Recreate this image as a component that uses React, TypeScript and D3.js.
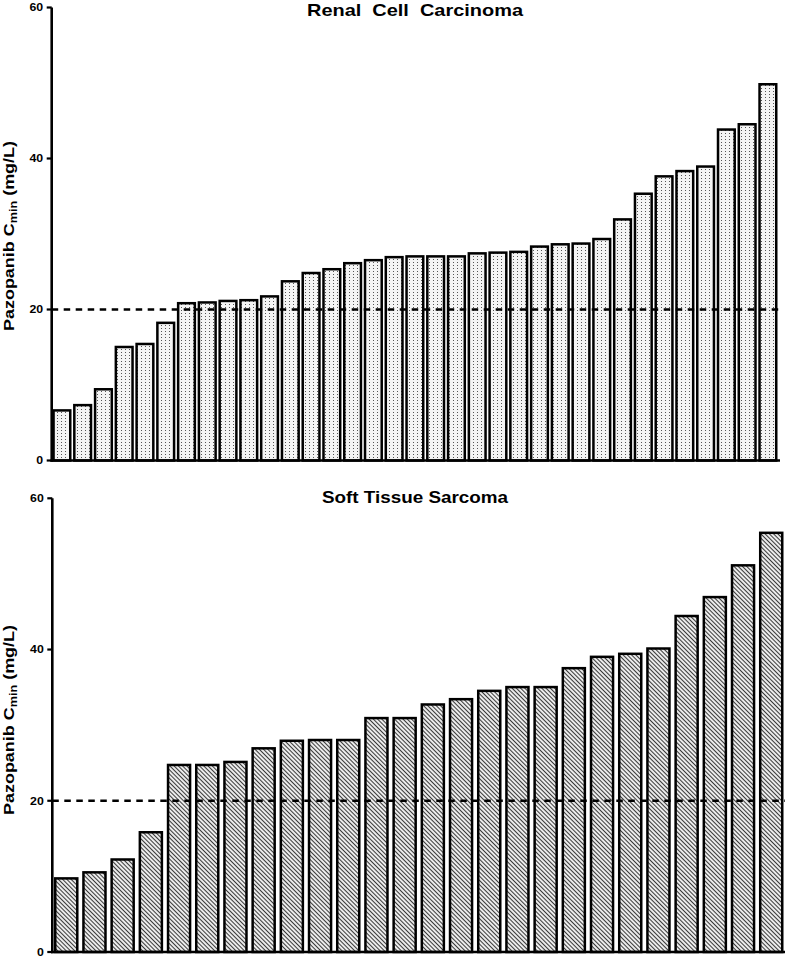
import React from "react";
import * as d3 from "d3";

const rccValues = [6.8, 7.5, 9.6, 15.2, 15.6, 18.4, 21.0, 21.1, 21.3, 21.4, 21.9, 23.9, 25.0, 25.5, 26.3, 26.7, 27.1, 27.2, 27.2, 27.2, 27.6, 27.7, 27.8, 28.5, 28.8, 28.9, 29.5, 32.1, 35.5, 37.8, 38.5, 39.1, 44.0, 44.7, 50.0];
const stsValues = [9.9, 10.7, 12.4, 16.0, 24.9, 24.9, 25.3, 27.1, 28.1, 28.2, 28.2, 31.1, 31.1, 32.9, 33.6, 34.7, 35.2, 35.2, 37.7, 39.2, 39.6, 40.3, 44.6, 47.1, 51.3, 55.6];
const yTicks = [0, 20, 40, 60];
const threshold = 20;
const titles = ["Renal  Cell  Carcinoma", "Soft Tissue Sarcoma"];

const FONT = "'Liberation Sans', Arial, Helvetica, sans-serif";

type PanelProps = {
  values: number[];
  title: string;
  titleLen: number;
  yRange: [number, number];
  xRange: [number, number];
  pad: number;
  fill: string;
  axisX: number;
  lineEnd: number;
  titleY: number;
  labelY: number;
};

function Panel({ values, title, titleLen, yRange, xRange, pad, fill, axisX, lineEnd, titleY, labelY }: PanelProps) {
  const y = d3.scaleLinear().domain([0, 60]).range(yRange);
  const x = d3
    .scaleBand<number>()
    .domain(values.map((_, i) => i))
    .range(xRange)
    .paddingInner(pad)
    .paddingOuter(0);
  const sw = 2.5;
  const bw = x.bandwidth();
  const y0 = y(0);
  return (
    <g>
      <text
        x={415}
        y={titleY}
        textAnchor="middle"
        fontFamily={FONT}
        fontWeight="bold"
        fontSize={17}
        textLength={titleLen}
        lengthAdjust="spacingAndGlyphs"
        style={{ whiteSpace: "pre" }}
      >
        {title}
      </text>
      {values.map((v, i) => (
        <rect
          key={i}
          x={(x(i) as number) + sw / 2}
          y={y(v) + sw / 2}
          width={bw - sw}
          height={y0 - y(v) - sw / 2}
          fill={fill}
          stroke="#000"
          strokeWidth={sw}
        />
      ))}
      <line x1={axisX} x2={lineEnd} y1={y(threshold)} y2={y(threshold)} stroke="#000" strokeWidth={2.3} strokeDasharray="6.5,5.5" />
      <line x1={axisX} x2={axisX} y1={y(60)} y2={y0 + 1.25} stroke="#000" strokeWidth={2.6} />
      <line x1={axisX - 1.3} x2={lineEnd} y1={y0} y2={y0} stroke="#000" strokeWidth={2.6} />
      {yTicks.map((t) => (
        <g key={t}>
          <line x1={axisX - 5} x2={axisX} y1={y(t)} y2={y(t)} stroke="#000" strokeWidth={2.2} />
          <text
            x={axisX - 8.5}
            y={y(t)}
            dy="0.36em"
            textAnchor="end"
            fontFamily={FONT}
            fontWeight="bold"
            fontSize={11}
            textLength={String(t).length * 6.85}
            lengthAdjust="spacingAndGlyphs"
          >
            {t}
          </text>
        </g>
      ))}
      <g transform={`translate(14,${labelY}) rotate(-90) scale(1.2,1)`}>
        <text textAnchor="middle" fontFamily={FONT} fontWeight="bold" fontSize={15}>
          Pazopanib C
          <tspan fontSize={10.5} dy={3}>min</tspan>
          <tspan dy={-3}> (mg/L)</tspan>
        </text>
      </g>
    </g>
  );
}

export default function App() {
  return (
    <svg
      width={787}
      height={958}
      style={{ position: "absolute", left: 0, top: 0, background: "#fff" }}
    >
      <defs>
        <pattern id="dots" width={4} height={3} patternUnits="userSpaceOnUse">
          <rect width={4} height={3} fill="#f4f4f4" />
          <rect x={1} y={1} width={1} height={1} fill="#555" />
        </pattern>
        <pattern id="hatch" width={3} height={3} patternUnits="userSpaceOnUse" patternTransform="rotate(-45)">
          <rect width={3} height={3} fill="#fff" />
          <line x1={1.5} x2={1.5} y1={0} y2={3} stroke="#3a3a3a" strokeWidth={1.2} />
        </pattern>
      </defs>
      <Panel
        values={rccValues}
        title={titles[0]}
        titleLen={216}
        yRange={[460.5, 7.5]}
        xRange={[52.3, 777.5]}
        pad={0.075}
        fill="url(#dots)"
        axisX={51.7}
        lineEnd={780}
        titleY={16}
        labelY={236}
      />
      <Panel
        values={stsValues}
        title={titles[1]}
        titleLen={186}
        yRange={[952, 498.3]}
        xRange={[54, 783.5]}
        pad={0.13}
        fill="url(#hatch)"
        axisX={52.3}
        lineEnd={785}
        titleY={503}
        labelY={720}
      />
    </svg>
  );
}
